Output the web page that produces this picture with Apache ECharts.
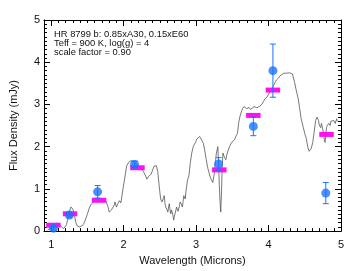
<!DOCTYPE html>
<html><head><meta charset="utf-8">
<script src="https://cdn.jsdelivr.net/npm/echarts@6/dist/echarts.min.js"></script>
<style>html,body{margin:0;padding:0;background:#fff}#c{width:351px;height:271px}</style>
</head><body><div id="c"></div>
<script>
// Model spectrum (wavelength in microns, flux in mJy)
const specX = [0.95,0.98,1.02,1.05,1.07,1.09,1.11,1.14,1.17,1.19,1.21,1.23,1.25,1.27,1.29,1.30,1.32,1.34,1.36,1.39,1.41,1.43,1.45,1.47,1.50,1.53,1.55,1.57,1.59,1.61,1.63,1.66,1.68,1.70,1.72,1.75,1.77,1.78,1.80,1.81,1.83,1.85,1.87,1.88,1.90,1.92,1.94,1.96,1.97,1.99,2.02,2.04,2.07,2.10,2.12,2.15,2.18,2.20,2.22,2.24,2.27,2.29,2.31,2.32,2.34,2.36,2.38,2.40,2.42,2.45,2.47,2.49,2.51,2.53,2.54,2.56,2.57,2.58,2.60,2.61,2.62,2.63,2.64,2.65,2.66,2.67,2.68,2.69,2.70,2.72,2.73,2.74,2.75,2.76,2.77,2.78,2.80,2.81,2.82,2.83,2.84,2.85,2.86,2.87,2.88,2.90,2.92,2.94,2.96,2.99,3.01,3.03,3.05,3.07,3.10,3.12,3.14,3.16,3.19,3.21,3.23,3.25,3.27,3.28,3.30,3.31,3.32,3.33,3.34,3.35,3.36,3.37,3.39,3.41,3.43,3.46,3.49,3.53,3.55,3.57,3.59,3.61,3.64,3.66,3.68,3.70,3.73,3.75,3.77,3.80,3.82,3.84,3.86,3.88,3.91,3.93,3.95,3.98,4.00,4.02,4.04,4.07,4.09,4.11,4.14,4.16,4.18,4.21,4.23,4.25,4.27,4.29,4.31,4.33,4.34,4.36,4.38,4.41,4.43,4.45,4.48,4.50,4.52,4.54,4.56,4.57,4.59,4.61,4.63,4.65,4.67,4.68,4.69,4.70,4.72,4.73,4.75,4.76,4.77,4.78,4.79,4.80,4.81,4.83,4.85,4.86,4.88,4.90,4.92,4.94,4.95];
const specY = [0.02,0.07,0.10,0.13,0.19,0.22,0.16,0.10,0.06,0.07,0.15,0.30,0.45,0.57,0.55,0.52,0.38,0.20,0.12,0.10,0.11,0.13,0.18,0.26,0.41,0.57,0.63,0.67,0.70,0.72,0.76,0.78,0.75,0.76,0.73,0.72,0.68,0.60,0.45,0.41,0.50,0.53,0.62,0.69,0.57,0.65,0.72,0.67,0.76,1.00,1.31,1.54,1.63,1.67,1.66,1.62,1.58,1.54,1.50,1.46,1.42,1.38,1.28,1.23,1.29,1.31,1.35,1.45,1.54,1.55,1.42,1.07,0.76,0.69,0.72,0.84,0.65,0.57,0.50,0.45,0.58,0.65,0.50,0.41,0.50,0.53,0.38,0.26,0.35,0.49,0.57,0.55,0.47,0.45,0.60,0.69,0.62,0.57,0.70,0.84,0.82,0.76,0.95,1.07,1.20,1.31,1.62,1.85,2.00,2.10,2.18,2.22,2.24,2.18,2.08,1.90,1.69,1.50,1.31,1.22,1.15,1.35,1.70,1.85,2.00,1.60,1.10,0.70,0.45,0.90,1.50,1.85,1.75,1.69,1.85,2.00,2.10,2.16,2.25,2.31,2.59,2.75,2.90,2.95,2.97,2.90,2.93,2.88,2.90,2.95,2.97,2.92,2.90,2.96,3.01,3.07,3.13,3.18,3.24,3.30,3.36,3.45,3.52,3.58,3.63,3.68,3.71,3.74,3.75,3.74,3.73,3.75,3.76,3.72,3.65,3.52,3.35,3.13,2.90,2.66,2.45,2.31,2.20,2.00,1.89,1.92,1.96,2.10,2.35,2.62,2.70,2.74,2.62,2.51,2.45,2.55,2.40,2.30,2.15,2.10,2.30,2.45,2.50,2.55,2.50,2.60,2.59,2.62,2.55,2.66,2.60];

// Band-integrated model fluxes (magenta)
const bandX = [1.03,1.26,1.66,2.19,3.32,3.79,4.06,4.80];
const bandY = [0.14,0.41,0.73,1.50,1.45,2.74,3.34,2.29];

// Observed photometry (blue) with errors
const obsX = [1.03,1.25,1.64,2.15,3.31,3.79,4.06,4.79];
const obsY = [0.07,0.38,0.93,1.58,1.59,2.48,3.80,0.90];
const obsErr = [0.04,0.05,0.15,0.08,0.15,0.22,0.63,0.25];

const xTicks = [1,2,3,4,5];
const yTicks = [0,1,2,3,4,5];
const noteLines = ['HR 8799 b: 0.85xA30, 0.15xE60','Teff = 900 K, log(g) = 4','scale factor = 0.90'];

const FONT = '"Liberation Sans", Arial, sans-serif';
const BLUE = '#1a74ff';
const MAG = '#ff10f0';

const minorX = [];
for (let i = 9; i <= 50; i++) minorX.push(i / 10);

function xAxisDef(pos, major, showLabels) {
  return {
    type: 'value', min: 0.9, max: 5, position: pos, gridIndex: 0,
    axisLine: { show: major, onZero: false, lineStyle: { color: '#000', width: 1 } },
    axisTick: { show: true, inside: true, length: major ? 6 : 3, customValues: major ? xTicks : minorX, lineStyle: { color: '#000' } },
    axisLabel: { show: showLabels, customValues: xTicks, margin: 8, fontSize: 11, color: '#111', fontFamily: FONT },
    splitLine: { show: false }
  };
}
function yAxisDef(pos, showLabels) {
  return {
    type: 'value', min: 0, max: 5, interval: 1, position: pos,
    axisLine: { show: true, onZero: false, lineStyle: { color: '#000', width: 1 } },
    axisTick: { show: true, inside: true, length: 6, lineStyle: { color: '#000' } },
    minorTick: { show: true, splitNumber: 10, length: 3, lineStyle: { color: '#000' } },
    axisLabel: { show: showLabels, margin: 4, fontSize: 11, color: '#111', fontFamily: FONT },
    splitLine: { show: false }
  };
}

const xa0 = xAxisDef('bottom', true, true);
xa0.name = 'Wavelength (Microns)';
xa0.nameLocation = 'middle';
xa0.nameGap = 23;
xa0.nameTextStyle = { fontSize: 11, color: '#111', fontFamily: FONT };
const ya0 = yAxisDef('left', true);
ya0.name = 'Flux Density (mJy)';
ya0.nameLocation = 'middle';
ya0.nameGap = 25;
ya0.nameTextStyle = { fontSize: 11, color: '#111', fontFamily: FONT };

const chart = echarts.init(document.getElementById('c'), null, { renderer: 'canvas' });
chart.setOption({
  animation: false,
  backgroundColor: '#fff',
  grid: { left: 41, right: 10, top: 20, bottom: 37, containLabel: false },
  xAxis: [xa0, xAxisDef('bottom', false, false), xAxisDef('top', true, false), xAxisDef('top', false, false)],
  yAxis: [ya0, yAxisDef('right', false)],
  graphic: noteLines.map((t, i) => ({
    type: 'text', left: 54, top: 29.5 + i * 9.3,
    style: { text: t, fontSize: 9.4, fill: '#111', fontFamily: FONT }
  })),
  series: [
    {
      type: 'line', xAxisIndex: 0, yAxisIndex: 0, symbol: 'none',
      data: specX.map((x, i) => [x, specY[i]]),
      lineStyle: { color: '#555', width: 0.8 }, z: 2
    },
    {
      type: 'custom', xAxisIndex: 0, yAxisIndex: 0, z: 3,
      data: bandX.map((x, i) => [x, bandY[i]]),
      renderItem: function (params, api) {
        const a = api.coord([api.value(0) - 0.1, api.value(1)]);
        const b = api.coord([api.value(0) + 0.1, api.value(1)]);
        return { type: 'rect', shape: { x: a[0], y: a[1] - 2.5, width: b[0] - a[0], height: 5 }, style: { fill: MAG } };
      }
    },
    {
      type: 'custom', xAxisIndex: 0, yAxisIndex: 0, z: 4,
      data: obsX.map((x, i) => [x, obsY[i], obsErr[i]]),
      renderItem: function (params, api) {
        const x = api.value(0), y = api.value(1), e = api.value(2);
        const top = api.coord([x, y + e]);
        const bot = api.coord([x, y - e]);
        const st = { stroke: BLUE, lineWidth: 1 };
        return { type: 'group', children: [
          { type: 'line', shape: { x1: top[0], y1: top[1], x2: bot[0], y2: bot[1] }, style: st },
          { type: 'line', shape: { x1: top[0] - 3, y1: top[1], x2: top[0] + 3, y2: top[1] }, style: st },
          { type: 'line', shape: { x1: bot[0] - 3, y1: bot[1], x2: bot[0] + 3, y2: bot[1] }, style: st }
        ] };
      }
    },
    {
      type: 'scatter', xAxisIndex: 0, yAxisIndex: 0, z: 5,
      symbol: 'circle', symbolSize: 9,
      data: obsX.map((x, i) => [x, obsY[i]]),
      itemStyle: { color: BLUE }
    }
  ]
});
</script></body></html>
